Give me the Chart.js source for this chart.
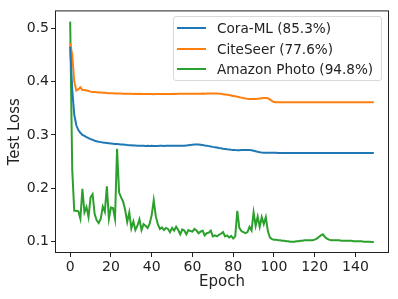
<!DOCTYPE html>
<html>
<head>
<meta charset="utf-8">
<script src="https://cdn.jsdelivr.net/npm/chart.js@4"></script>
<style>
  html, body { margin: 0; padding: 0; background: #fff; }
  #wrap { position: relative; width: 398px; height: 299px; }
  #legend {
    position: absolute; left: 173px; top: 16px; width: 209px; height: 65px;
    box-sizing: border-box; border: 1px solid #d9d9d9; border-radius: 3px;
    background: rgba(255,255,255,0.8); font-family: "DejaVu Sans", sans-serif;
    font-size: 13.6px; color: #222;
  }
  .item { position: absolute; left: 0; height: 20px; line-height: 20px; white-space: nowrap; }
  .swatch { position: absolute; left: 3px; top: 9px; width: 29px; height: 2px; }
  .label { position: absolute; left: 43px; top: 0; }
</style>
</head>
<body>
<div id="wrap">
  <canvas id="lossChart" width="398" height="299"></canvas>
  <div id="legend"></div>
</div>
<script>
// Series data
const seriesNames = ["Cora-ML (85.3%)", "CiteSeer (77.6%)", "Amazon Photo (94.8%)"];
const seriesColors = ["#1f77b4", "#ff7f0e", "#2ca02c"];
const xTicks = [0, 20, 40, 60, 80, 100, 120, 140];
const yTicks = [0.1, 0.2, 0.3, 0.4, 0.5];

const coraLoss = [
  0.465, 0.385, 0.338, 0.318, 0.309, 0.304, 0.300, 0.298, 0.296, 0.294,
  0.292, 0.291, 0.289, 0.288, 0.287, 0.2865, 0.286, 0.2855, 0.285, 0.2845,
  0.284, 0.2835, 0.283, 0.2828, 0.2825, 0.2822, 0.282, 0.2815, 0.281, 0.2808,
  0.2805, 0.2802, 0.280, 0.2798, 0.2797, 0.2796, 0.2795, 0.2794, 0.2795, 0.2794,
  0.2795, 0.2794, 0.2793, 0.2794, 0.2795, 0.2795, 0.2794, 0.2795, 0.2796, 0.2795,
  0.2795, 0.2796, 0.2795, 0.2796, 0.2797, 0.2797, 0.2798, 0.2803, 0.2808, 0.2813,
  0.2818, 0.2821, 0.2822, 0.282, 0.2815, 0.281, 0.2803, 0.2797, 0.279, 0.2783,
  0.2776, 0.277, 0.2763, 0.2756, 0.275, 0.2743, 0.2737, 0.2731, 0.2726, 0.2721,
  0.2718, 0.2716, 0.2715, 0.2715, 0.2716, 0.2716, 0.2717, 0.2718, 0.2718, 0.2714,
  0.2705, 0.2694, 0.2684, 0.2675, 0.2669, 0.2667, 0.2666, 0.2665, 0.2665, 0.2664,
  0.2664, 0.2664, 0.2663, 0.2663, 0.2663, 0.2663, 0.2662, 0.2662, 0.2662, 0.2662,
  0.2662, 0.2662, 0.2662, 0.2661, 0.2661, 0.2661, 0.2661, 0.2661, 0.2661, 0.2661,
  0.2661, 0.2661, 0.2661, 0.266, 0.266, 0.266, 0.266, 0.266, 0.266, 0.266,
  0.266, 0.266, 0.266, 0.266, 0.266, 0.266, 0.266, 0.266, 0.266, 0.266,
  0.266, 0.266, 0.266, 0.266, 0.266, 0.266, 0.266, 0.266, 0.266, 0.266
];

const citeseerLoss = [
  0.472, 0.450, 0.400, 0.383, 0.385, 0.389, 0.384, 0.384, 0.383, 0.382,
  0.381, 0.3805, 0.3805, 0.380, 0.3795, 0.3795, 0.379, 0.3788, 0.3785, 0.378,
  0.378, 0.3778, 0.3775, 0.3777, 0.3773, 0.3775, 0.3772, 0.377, 0.3772, 0.3768,
  0.377, 0.3767, 0.3768, 0.3766, 0.3768, 0.3765, 0.3767, 0.3766, 0.3765, 0.3764,
  0.3765, 0.3763, 0.3764, 0.3765, 0.3764, 0.3766, 0.3765, 0.3766, 0.3767, 0.3766,
  0.3767, 0.3768, 0.3767, 0.3768, 0.3769, 0.3768, 0.377, 0.3769, 0.377, 0.3771,
  0.377, 0.3771, 0.3772, 0.3771, 0.3772, 0.3773, 0.3772, 0.3773, 0.3774, 0.3773,
  0.3774, 0.3774, 0.3773, 0.3772, 0.3768, 0.3763, 0.3758, 0.3752, 0.3745, 0.3738,
  0.373, 0.3722, 0.3714, 0.3706, 0.3698, 0.369, 0.3683, 0.3677, 0.3672, 0.367,
  0.367, 0.3672, 0.3675, 0.368, 0.3685, 0.369, 0.3692, 0.3688, 0.3665, 0.3635,
  0.3615, 0.361, 0.361, 0.3609, 0.361, 0.3609, 0.361, 0.361, 0.3609, 0.361,
  0.361, 0.361, 0.3609, 0.361, 0.361, 0.361, 0.3609, 0.361, 0.361, 0.361,
  0.361, 0.3609, 0.361, 0.361, 0.361, 0.361, 0.361, 0.3609, 0.361, 0.361,
  0.361, 0.361, 0.361, 0.3609, 0.361, 0.361, 0.361, 0.361, 0.361, 0.361,
  0.361, 0.361, 0.361, 0.361, 0.3609, 0.361, 0.361, 0.361, 0.361, 0.361
];

const amazonLoss = [
  0.512, 0.235, 0.158, 0.158, 0.157, 0.143, 0.199, 0.155, 0.165, 0.146,
  0.183, 0.189, 0.152, 0.140, 0.135, 0.143, 0.166, 0.156, 0.204, 0.143,
  0.164, 0.163, 0.143, 0.274, 0.192, 0.183, 0.175, 0.159, 0.137, 0.155,
  0.125, 0.138, 0.122, 0.130, 0.142, 0.122, 0.133, 0.130, 0.126, 0.134,
  0.150, 0.178, 0.148, 0.133, 0.124, 0.127, 0.122, 0.126, 0.124, 0.118,
  0.126, 0.121, 0.128, 0.122, 0.114, 0.123, 0.121, 0.114, 0.122, 0.120,
  0.119, 0.124, 0.121, 0.116, 0.119, 0.121, 0.112, 0.116, 0.117, 0.121,
  0.110, 0.112, 0.110, 0.113, 0.115, 0.118, 0.110, 0.112, 0.108, 0.111,
  0.106, 0.110, 0.158, 0.126, 0.120, 0.118, 0.116, 0.118, 0.128, 0.121,
  0.155, 0.130, 0.147, 0.128, 0.146, 0.133, 0.146, 0.120, 0.108, 0.105,
  0.104, 0.104, 0.103, 0.103, 0.102, 0.102, 0.101, 0.101, 0.100, 0.100,
  0.100, 0.101, 0.101, 0.102, 0.102, 0.103, 0.103, 0.103, 0.103, 0.103,
  0.104, 0.106, 0.109, 0.112, 0.114, 0.109, 0.106, 0.104, 0.103, 0.103,
  0.103, 0.103, 0.103, 0.102, 0.102, 0.102, 0.102, 0.102, 0.102, 0.101,
  0.101, 0.101, 0.101, 0.101, 0.100, 0.100, 0.100, 0.100, 0.0995, 0.0995
];

const epochs = coraLoss.map((_, i) => i);
const allSeries = [coraLoss, citeseerLoss, amazonLoss];

// Axes frame (matplotlib style box)
const frameBox = {
  id: "frameBox",
  afterDraw(chart) {
    const { ctx, chartArea: a } = chart;
    ctx.save();
    ctx.strokeStyle = "#222";
    ctx.lineWidth = 1;
    ctx.strokeRect(a.left + 0.5, a.top + 0.5, a.right - a.left - 1, a.bottom - a.top - 1);
    ctx.restore();
  }
};

function buildLegend() {
  const legend = document.getElementById("legend");
  seriesNames.forEach((name, i) => {
    const item = document.createElement("div");
    item.className = "item";
    item.style.top = (1 + i * 20.5) + "px";
    item.innerHTML = `<span class="swatch" style="background:${seriesColors[i]}"></span><span class="label">${name}</span>`;
    legend.appendChild(item);
  });
}

const ctx = document.getElementById("lossChart").getContext("2d");
new Chart(ctx, {
  type: "line",
  data: {
    datasets: allSeries.map((vals, i) => ({
      label: seriesNames[i],
      data: vals.map((v, j) => ({ x: epochs[j], y: v })),
      borderColor: seriesColors[i],
      borderWidth: 2,
      pointRadius: 0,
      tension: 0,
      fill: false
    }))
  },
  options: {
    responsive: false,
    devicePixelRatio: 1,
    animation: false,
    layout: { padding: { left: 0, top: 9, right: 9, bottom: 0 } },
    plugins: { legend: { display: false }, tooltip: { enabled: false } },
    scales: {
      x: {
        type: "linear",
        min: -7.45,
        max: 156.45,
        afterBuildTicks: scale => { scale.ticks = xTicks.map(v => ({ value: v })); },
        afterFit: scale => { scale.height = 46; },
        border: { display: false },
        grid: { drawOnChartArea: false, drawTicks: true, tickLength: 4, tickColor: "#222" },
        ticks: { color: "#222", padding: 2, maxRotation: 0, font: { family: "DejaVu Sans", size: 14 } },
        title: { display: true, text: "Epoch", color: "#222", padding: { top: 0, bottom: 8 },
                 font: { family: "DejaVu Sans", size: 15 } }
      },
      y: {
        min: 0.079,
        max: 0.533,
        afterBuildTicks: scale => { scale.ticks = yTicks.map(v => ({ value: v })); },
        afterFit: scale => { scale.width = 55; },
        border: { display: false },
        grid: { drawOnChartArea: false, drawTicks: true, tickLength: 4, tickColor: "#222" },
        ticks: { color: "#222", padding: 2, font: { family: "DejaVu Sans", size: 14 },
                 callback: v => v.toFixed(1) },
        title: { display: true, text: "Test Loss", color: "#222", padding: { top: 6, bottom: 0 },
                 font: { family: "DejaVu Sans", size: 15 } }
      }
    }
  },
  plugins: [frameBox]
});

buildLegend();
</script>
</body>
</html>
